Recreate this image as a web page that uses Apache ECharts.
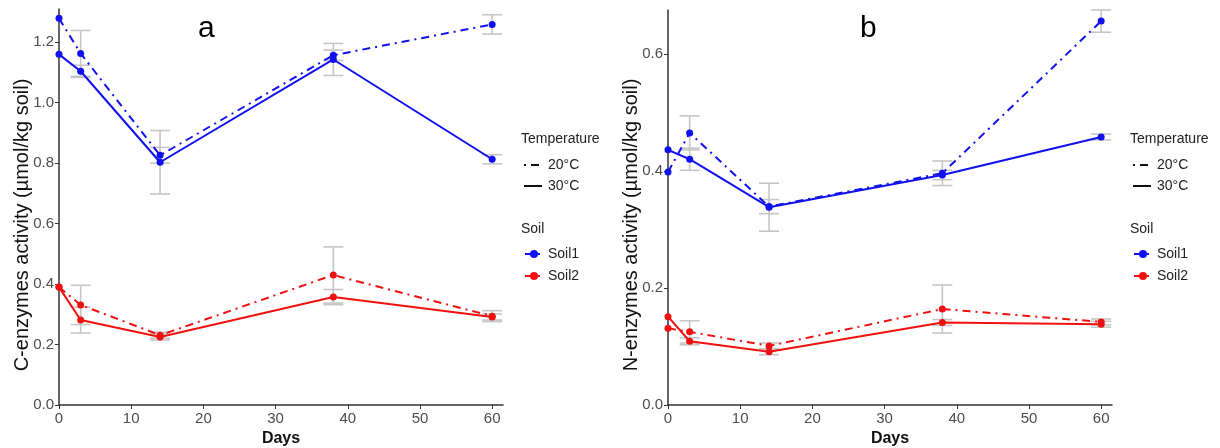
<!DOCTYPE html>
<html><head><meta charset="utf-8">
<script src="https://cdn.jsdelivr.net/npm/echarts@6/dist/echarts.min.js"></script>
<style>html,body{margin:0;padding:0;background:#fff}#c{width:1220px;height:448px}</style>
</head><body><div id="c"></div>
<script>
// ---- data ----
const days = [0, 3, 14, 38, 60];
const xTicks = [0, 10, 20, 30, 40, 50, 60];
const yTicksA = [0, 0.2, 0.4, 0.6, 0.8, 1.0, 1.2];
const yTicksB = [0, 0.2, 0.4, 0.6];
const temps = ['20°C', '30°C'];
const soils = ['Soil1', 'Soil2'];
// panel a: C-enzymes
const aSoil1T20 = [1.279, 1.163, 0.826, 1.157, 1.259];
const aSoil1T30 = [1.160, 1.104, 0.803, 1.143, 0.813];
const aSoil2T20 = [0.390, 0.331, 0.231, 0.430, 0.294];
const aSoil2T30 = [0.390, 0.281, 0.225, 0.357, 0.291];
const aErrSoil1T20 = [0, 0.076, 0.026, 0.017, 0.032];
const aErrSoil1T30 = [0, 0.020, 0.105, 0.053, 0.015];
const aErrSoil2T20 = [0, 0.065, 0.010, 0.093, 0.018];
const aErrSoil2T30 = [0, 0.043, 0.010, 0.025, 0.010];
// panel b: N-enzymes
const bSoil1T20 = [0.398, 0.465, 0.339, 0.396, 0.656];
const bSoil1T30 = [0.436, 0.420, 0.338, 0.393, 0.458];
const bSoil2T20 = [0.131, 0.125, 0.101, 0.164, 0.142];
const bSoil2T30 = [0.151, 0.109, 0.091, 0.141, 0.138];
const bErrSoil1T20 = [0, 0.029, 0.012, 0.021, 0.019];
const bErrSoil1T30 = [0, 0.019, 0.041, 0.008, 0.005];
const bErrSoil2T20 = [0, 0.019, 0.005, 0.041, 0.005];
const bErrSoil2T30 = [0, 0.006, 0.005, 0.005, 0.005];

const BLUE = '#1010f0', RED = '#f01010';
const DOTDASH = [8, 5, 2, 5];
const FONT = 'Liberation Sans, Arial, sans-serif';

function pairs(v) { return days.map((d, i) => [d, v[i]]); }
function errs(vals, e) {
  const out = [];
  days.forEach((d, i) => { if (e[i] > 0) out.push([d, vals[i] - e[i], vals[i] + e[i]]); });
  return out;
}
function errRender(params, api) {
  const x = api.value(0), lo = api.value(1), hi = api.value(2);
  const p1 = api.coord([x, lo]), p2 = api.coord([x, hi]);
  const w = 10;
  const st = { stroke: '#c6c6c6', lineWidth: 1.6 };
  return { type: 'group', children: [
    { type: 'line', shape: { x1: p1[0], y1: p1[1], x2: p2[0], y2: p2[1] }, style: st },
    { type: 'line', shape: { x1: p1[0] - w, y1: p1[1], x2: p1[0] + w, y2: p1[1] }, style: st },
    { type: 'line', shape: { x1: p2[0] - w, y1: p2[1], x2: p2[0] + w, y2: p2[1] }, style: st }
  ]};
}
function errSeries(idx, data) {
  return { type: 'custom', xAxisIndex: idx, yAxisIndex: idx, renderItem: errRender, data: data, z: 1, silent: true,
    encode: { x: 0, y: [1, 2] } };
}
function lineSeries(idx, name, color, dashed, vals) {
  return { type: 'line', name: name, xAxisIndex: idx, yAxisIndex: idx, data: pairs(vals),
    symbol: 'circle', symbolSize: 7, color: color, z: 3,
    itemStyle: { color: color },
    lineStyle: { color: color, width: 2, type: dashed ? DOTDASH : 'solid' } };
}
function xAxis(idx) {
  return { type: 'value', gridIndex: idx, min: 0, max: 61.5, interval: 10,
    name: 'Days', nameLocation: 'middle', nameGap: 25,
    nameTextStyle: { fontFamily: FONT, fontSize: 16, fontWeight: 'bold', color: '#111' },
    axisLine: { show: true, onZero: false, lineStyle: { color: '#333', width: 1.5 } },
    axisTick: { show: true, length: 4, customValues: xTicks, lineStyle: { color: '#333' } },
    axisLabel: { customValues: xTicks, fontFamily: FONT, fontSize: 15, color: '#4d4d4d', margin: 6 },
    splitLine: { show: false } };
}
function yAxis(idx, max, ticks) {
  return { type: 'value', gridIndex: idx, min: 0, max: max,
    axisLine: { show: true, onZero: false, lineStyle: { color: '#333', width: 1.5 } },
    axisTick: { show: true, length: 4, customValues: ticks, lineStyle: { color: '#333' } },
    axisLabel: { customValues: ticks, fontFamily: FONT, fontSize: 15, color: '#4d4d4d', margin: 5,
      formatter: v => v.toFixed(1) },
    splitLine: { show: false } };
}
function soilLegend(left, top) {
  return { orient: 'vertical', left: left, top: top, data: soils, itemWidth: 18, itemHeight: 10, itemGap: 6,
    selectedMode: false, padding: 0,
    textStyle: { fontFamily: FONT, fontSize: 14, color: '#222', lineHeight: 16 } };
}
function tempLegend(x, y) {
  const t = (s, left, top) => ({ type: 'text', left: left, top: top, style: { text: s, font: '14px ' + FONT, fill: '#222' } });
  return [
    t('Temperature', x - 3, y - 33),
    { type: 'line', shape: { x1: x, y1: y, x2: x + 18, y2: y }, style: { stroke: '#111', lineWidth: 2, lineDash: [2, 5, 8, 5] } },
    t(temps[0], x + 24, y - 7),
    { type: 'line', shape: { x1: x, y1: y + 21, x2: x + 18, y2: y + 21 }, style: { stroke: '#111', lineWidth: 2 } },
    t(temps[1], x + 24, y + 14)
  ];
}
function yTitle(s, x, y) {
  return { type: 'text', x: x, y: y, rotation: Math.PI / 2,
    style: { text: s, font: '20px ' + FONT, fill: '#111', align: 'center', verticalAlign: 'middle' } };
}

const chart = echarts.init(document.getElementById('c'), null, { renderer: 'canvas' });
chart.setOption({
  animation: false,
  backgroundColor: '#fff',
  grid: [
    { left: 59, right: 717, top: 9, bottom: 43, outerBoundsMode: 'none', containLabel: false },
    { left: 668, right: 108, top: 10, bottom: 43, outerBoundsMode: 'none', containLabel: false }
  ],
  xAxis: [xAxis(0), xAxis(1)],
  yAxis: [yAxis(0, 1.31, yTicksA), yAxis(1, 0.675, yTicksB)],
  legend: [soilLegend(524, 246), soilLegend(1133, 246)],
  graphic: [
    ...tempLegend(524, 165),
    ...tempLegend(1133, 165),
    { type: 'text', left: 521, top: 222, style: { text: 'Soil', font: '14px ' + FONT, fill: '#222' } },
    { type: 'text', left: 1130, top: 222, style: { text: 'Soil', font: '14px ' + FONT, fill: '#222' } },
    { type: 'text', left: 198, top: 14, style: { text: 'a', font: '30px ' + FONT, fill: '#000' } },
    { type: 'text', left: 860, top: 14, style: { text: 'b', font: '30px ' + FONT, fill: '#000' } },
    yTitle('C-enzymes activity (µmol/kg soil)', 22, 225),
    yTitle('N-enzymes activity (µmol/kg soil)', 631, 225)
  ],
  series: [
    errSeries(0, errs(aSoil1T20, aErrSoil1T20)),
    errSeries(0, errs(aSoil1T30, aErrSoil1T30)),
    errSeries(0, errs(aSoil2T20, aErrSoil2T20)),
    errSeries(0, errs(aSoil2T30, aErrSoil2T30)),
    errSeries(1, errs(bSoil1T20, bErrSoil1T20)),
    errSeries(1, errs(bSoil1T30, bErrSoil1T30)),
    errSeries(1, errs(bSoil2T20, bErrSoil2T20)),
    errSeries(1, errs(bSoil2T30, bErrSoil2T30)),
    lineSeries(0, 'Soil1', BLUE, true, aSoil1T20),
    lineSeries(0, 'Soil1', BLUE, false, aSoil1T30),
    lineSeries(0, 'Soil2', RED, true, aSoil2T20),
    lineSeries(0, 'Soil2', RED, false, aSoil2T30),
    lineSeries(1, 'Soil1', BLUE, true, bSoil1T20),
    lineSeries(1, 'Soil1', BLUE, false, bSoil1T30),
    lineSeries(1, 'Soil2', RED, true, bSoil2T20),
    lineSeries(1, 'Soil2', RED, false, bSoil2T30)
  ]
});
</script></body></html>
